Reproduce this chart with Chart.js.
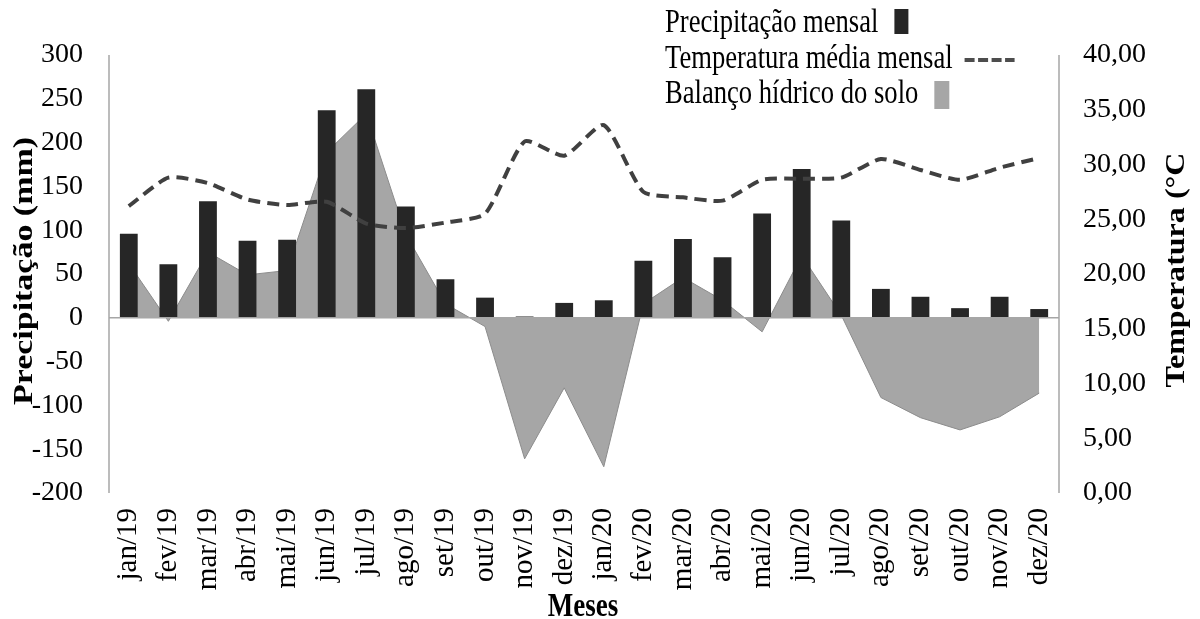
<!DOCTYPE html>
<html>
<head>
<meta charset="utf-8">
<script src="https://cdn.jsdelivr.net/npm/chart.js@4.4.1/dist/chart.umd.min.js"></script>
<style>
  body { margin: 0; background: #fff; }
  #caixa { width: 1200px; height: 619px; }
</style>
</head>
<body>
<div id="caixa"><canvas id="grafico" width="1200" height="619"></canvas></div>
<script>
const meses = ["jan/19", "fev/19", "mar/19", "abr/19", "mai/19", "jun/19", "jul/19", "ago/19",
    "set/19", "out/19", "nov/19", "dez/19", "jan/20", "fev/20", "mar/20", "abr/20",
    "mai/20", "jun/20", "jul/20", "ago/20", "set/20", "out/20", "nov/20", "dez/20"];
const precipitacao = [96, 61, 133, 88, 89, 237, 261, 127, 44, 23, 1.5, 17,
    20, 65, 90, 69, 119, 170, 111, 33, 24, 11, 24, 10];
const balancoHidrico = [62, -4, 75, 49, 54, 189, 233, 95, 16, -10, -161, -80,
    -170, 16, 46, 20, -16, 71, 3, -91, -114, -128, -113, -86];
const temperatura = [26.2, 28.8, 28.3, 26.8, 26.3, 26.6, 24.6, 24.2, 24.7, 25.5, 32.1, 30.8,
    33.6, 27.5, 27.0, 26.7, 28.6, 28.7, 28.8, 30.5, 29.5, 28.6, 29.7, 30.6];

const fonte = "'Liberation Serif', 'Times New Roman', serif";

// escreve um texto esticado (a figura original foi esticada na vertical)
function textoEsticado(ctx, texto, x, y, opts) {
    ctx.save();
    ctx.translate(x, y);
    if (opts.angulo) ctx.rotate(opts.angulo);
    ctx.font = opts.fonte;
    let sx = 1, sy = opts.sy || 1;
    if (opts.comprimento) sx = opts.comprimento / ctx.measureText(texto).width;
    ctx.scale(sx, sy);
    ctx.textAlign = opts.align || "center";
    ctx.textBaseline = opts.baseline || "middle";
    ctx.fillStyle = "#000";
    ctx.fillText(texto, 0, 0);
    const largura = ctx.measureText(texto).width * sx;
    ctx.restore();
    return largura;
}

const extras = {
    id: "extras",
    afterDatasetsDraw(chart) {
        const { ctx, chartArea: ca, scales } = chart;
        const y0 = scales.y.getPixelForValue(0);
        ctx.save();
        ctx.strokeStyle = "#a6a6a6";
        ctx.lineWidth = 1.5;
        ctx.beginPath();
        ctx.moveTo(ca.left, ca.top); ctx.lineTo(ca.left, ca.bottom);
        ctx.moveTo(ca.right, ca.top); ctx.lineTo(ca.right, ca.bottom);
        ctx.moveTo(ca.left, y0); ctx.lineTo(ca.right, y0);
        ctx.stroke();
        ctx.restore();
    },
    afterDraw(chart) {
        const ctx = chart.ctx;
        // titulos dos eixos
        textoEsticado(ctx, "Precipitação (mm)", 25, 271,
            { angulo: -Math.PI / 2, fonte: "bold 28px " + fonte, comprimento: 268 });
        textoEsticado(ctx, "Temperatura (°C", 1177, 270,
            { angulo: -Math.PI / 2, fonte: "bold 28px " + fonte, comprimento: 235 });
        textoEsticado(ctx, "Meses", 583, 607, { fonte: "bold 27px " + fonte, sy: 1.25 });

        // legenda
        const f = "26.6px " + fonte;
        const opt = { fonte: f, sy: 1.25, align: "left", baseline: "alphabetic" };
        let w = textoEsticado(ctx, "Precipitação mensal", 665, 32, opt);
        ctx.fillStyle = "#262626";
        ctx.fillRect(665 + w + 16, 9, 14, 25);

        w = textoEsticado(ctx, "Temperatura média mensal", 665, 68, opt);
        ctx.save();
        ctx.strokeStyle = "#4d4d4d";
        ctx.lineWidth = 4;
        ctx.setLineDash([10, 3.5]);
        ctx.beginPath();
        ctx.moveTo(665 + w + 12, 60);
        ctx.lineTo(665 + w + 62, 60);
        ctx.stroke();
        ctx.restore();

        w = textoEsticado(ctx, "Balanço hídrico do solo", 665, 103, opt);
        ctx.fillStyle = "#a6a6a6";
        ctx.fillRect(665 + w + 16, 81, 15, 28);
    }
};

new Chart(document.getElementById("grafico"), {
    data: {
        labels: meses,
        datasets: [
            {
                type: "line",
                label: "Temperatura média mensal",
                data: temperatura,
                yAxisID: "y1",
                borderColor: "#404040",
                borderWidth: 4,
                borderDash: [12, 7],
                pointRadius: 0,
                tension: 0.2,
                fill: false,
                order: 1
            },
            {
                type: "bar",
                label: "Precipitação mensal",
                data: precipitacao,
                yAxisID: "y",
                backgroundColor: "#262626",
                barPercentage: 0.45,
                categoryPercentage: 1,
                order: 2
            },
            {
                type: "line",
                label: "Balanço hídrico do solo",
                data: balancoHidrico,
                yAxisID: "y",
                backgroundColor: "#a6a6a6",
                borderColor: "#8c8c8c",
                borderWidth: 1,
                pointRadius: 0,
                tension: 0,
                fill: "origin",
                order: 3
            }
        ]
    },
    options: {
        responsive: false,
        devicePixelRatio: 1,
        animation: false,
        layout: { padding: { top: 55, left: 0, right: 0, bottom: 0 } },
        plugins: {
            legend: { display: false },
            tooltip: { enabled: false }
        },
        scales: {
            x: {
                offset: true,
                grid: { display: false, drawTicks: false },
                border: { display: false },
                ticks: {
                    color: "#000",
                    font: { family: fonte, size: 29 },
                    minRotation: 90,
                    maxRotation: 90,
                    autoSkip: false,
                    padding: 15
                },
                afterFit: s => { s.height = 126; }
            },
            y: {
                position: "left",
                min: -200,
                max: 300,
                grid: { display: false, drawTicks: false },
                border: { display: false },
                ticks: {
                    stepSize: 50,
                    color: "#000",
                    font: { family: fonte, size: 28 },
                    padding: 26
                },
                afterFit: s => { s.width = 109; }
            },
            y1: {
                position: "right",
                min: 0,
                max: 40,
                grid: { display: false, drawTicks: false },
                border: { display: false },
                ticks: {
                    stepSize: 5,
                    color: "#000",
                    font: { family: fonte, size: 28 },
                    padding: 24,
                    callback: v => v.toFixed(2).replace(".", ",")
                },
                afterFit: s => { s.width = 141; }
            }
        }
    },
    plugins: [extras]
});
</script>
</body>
</html>
